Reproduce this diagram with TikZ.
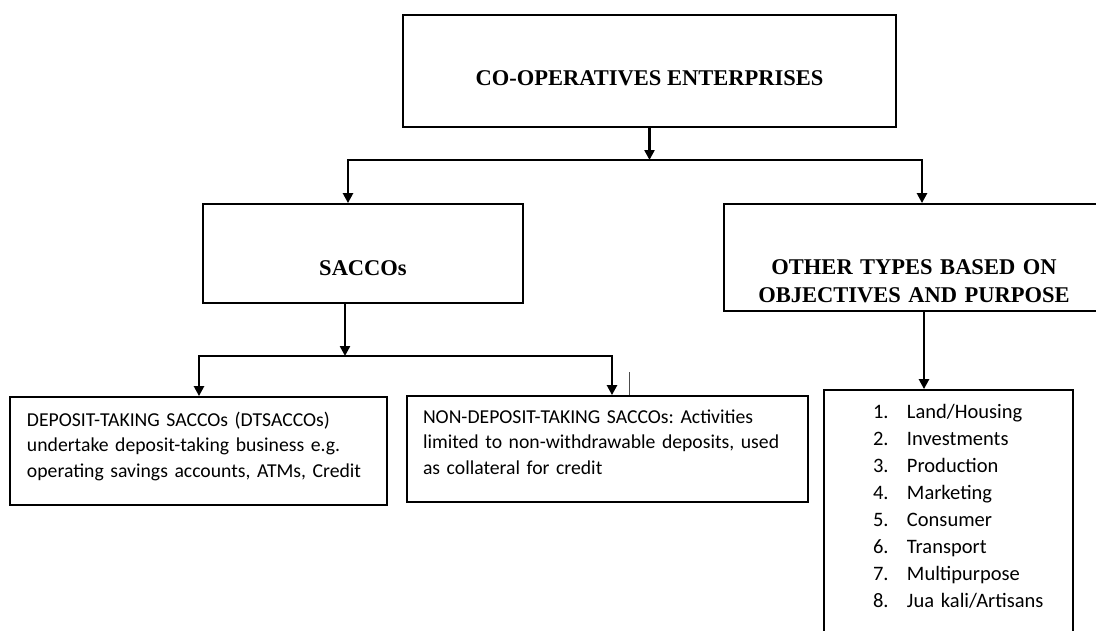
\documentclass[tikz,border=0pt]{standalone}
\usepackage{fontspec}
\setmainfont{Liberation Serif}
\newfontfamily\calibri{Carlito}
\usetikzlibrary{arrows.meta}

\begin{document}
\begin{tikzpicture}[x = 1pt, y = -1pt,
    box/.style = {draw, line width = 1.8pt, inner sep = 0pt},
    head/.style = {box, font = \fontsize{22.5}{28}\selectfont\bfseries},
    body/.style = {box, align = left, font = \fontsize{19.7}{25.5}\selectfont\calibri\frenchspacing},
    conn/.style = {line width = 2.4pt},
    arr/.style = {conn, -{Triangle[length = 10pt, width = 10pt]}},
    caret/.style = {line width = 0.8pt, black!70}]
    \useasboundingbox (0,0) rectangle (1096,630);
    % top level
    \node[head, minimum width = 493pt, text height = 70pt, text depth = 42pt] (coop) at (649.5,71) {CO-OPERATIVES ENTERPRISES};
    % second level
    \node[head, minimum width = 320pt, text height = 71pt, text depth = 28pt] (saccos) at (363,253.5) {SACCOs};
    \node[head, text width = 380pt, align = center, text height = 70pt, text depth = 37pt] (other) at (914,257.5)
        {OTHER TYPES BASED ON\\ OBJECTIVES AND PURPOSE};
    % third level
    \node[body, inner xsep = 17pt, text width = 343pt, text height = 29pt, text depth = 79pt] (dts) at (198.5,451)
        {\mbox{DEPOSIT-TAKING SACCOs (DTSACCOs)}\\
         \mbox{undertake deposit-taking business e.g.}\\
         \mbox{operating savings accounts, ATMs, Credit}};
    \node[body, inner xsep = 16pt, text width = 369pt, text height = 27pt, text depth = 79pt] (ndts) at (607.5,449)
        {\mbox{NON-DEPOSIT-TAKING SACCOs: Activities}\\
         \mbox{limited to non-withdrawable deposits, used}\\
         \mbox{as collateral for credit}};
    \node[body, font = \fontsize{20.5}{27}\selectfont\calibri, text width = 249pt, text height = 28pt, text depth = 227pt] (list) at (948.5,517.5)
        {\hspace*{49pt}\makebox[34pt][l]{1.}Land/Housing\\
         \hspace*{49pt}\makebox[34pt][l]{2.}Investments\\
         \hspace*{49pt}\makebox[34pt][l]{3.}Production\\
         \hspace*{49pt}\makebox[34pt][l]{4.}Marketing\\
         \hspace*{49pt}\makebox[34pt][l]{5.}Consumer\\
         \hspace*{49pt}\makebox[34pt][l]{6.}Transport\\
         \hspace*{49pt}\makebox[34pt][l]{7.}Multipurpose\\
         \hspace*{49pt}\makebox[34pt][l]{8.}Jua kali/Artisans};
    % connectors
    \coordinate (hubA) at (649.5,160);
    \coordinate (hubAL) at (348,160);
    \coordinate (hubAR) at (922,160);
    \draw[arr] (coop.south) -- (hubA);
    \draw[arr] (hubAR) -- (hubAL) -- (hubAL |- saccos.north);
    \draw[arr] (hubAL) -- (hubAR) -- (hubAR |- other.north);
    \coordinate (hubB) at (345,356);
    \coordinate (hubBL) at (199,356);
    \coordinate (hubBR) at (612,356);
    \draw[arr] (saccos.south -| hubB) -- (hubB);
    \draw[arr] (hubBR) -- (hubBL) -- (hubBL |- dts.north);
    \draw[arr] (hubBL) -- (hubBR) -- (hubBR |- ndts.north);
    \coordinate (hubC) at (924,311);
    \draw[arr] (hubC) -- (hubC |- list.north);
    \coordinate (cursor) at (629,372);
    \draw[caret] (cursor) -- (cursor |- ndts.north);
\end{tikzpicture}
\end{document}
